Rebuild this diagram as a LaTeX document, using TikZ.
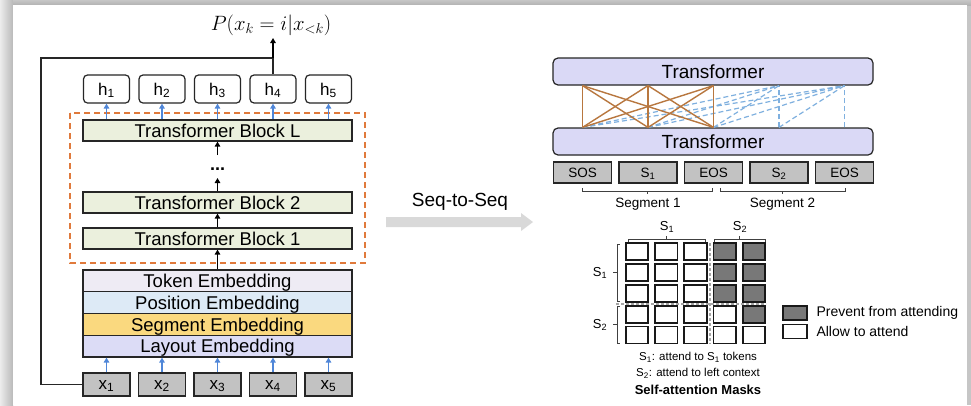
\documentclass[tikz,border=0pt]{standalone}
\usepackage{fontspec}
\setmainfont{Liberation Sans}
\usetikzlibrary{arrows.meta}

\definecolor{blockgreen}{HTML}{EBF0DD}
\definecolor{tokenemb}{HTML}{EEEBF4}
\definecolor{posemb}{HTML}{DDEAF6}
\definecolor{segemb}{HTML}{FAD97F}
\definecolor{layemb}{HTML}{DCDCF6}
\definecolor{lav}{HTML}{DAD9F6}
\definecolor{boxgray}{HTML}{C2C2C2}
\definecolor{dashorange}{HTML}{E07A3C}
\definecolor{attnorange}{HTML}{B8773F}
\definecolor{attnblue}{HTML}{7FB0DF}
\definecolor{arrowblue}{HTML}{4F86D8}
\definecolor{maskgray}{HTML}{787878}
\definecolor{sepgray}{HTML}{A5A5A5}
\definecolor{seqgray}{HTML}{D9D9D9}

\newcommand{\sbs}[1]{\textsubscript{#1}}

\tikzset{
  fs/.style={font=\fontsize{#1}{#1}\selectfont},
  outline/.style={draw=black!85,line width=1.2pt},
  block/.style={outline,fill=blockgreen,minimum width=269pt,minimum height=21pt,
    inner sep=0pt,fs=18.5,text height=13.3pt,text depth=0pt},
  emb/.style={outline,minimum width=269pt,minimum height=21.75pt,
    inner sep=0pt,fs=18.5,text height=13.3pt,text depth=0pt},
  hbox/.style={outline,rounded corners=4pt,fill=white,minimum width=46pt,
    minimum height=28pt,inner sep=0pt,fs=17,text height=12.2pt,text depth=0pt},
  xbox/.style={outline,fill=boxgray,minimum width=47pt,minimum height=23pt,
    inner sep=0pt,fs=17,text height=9pt,text depth=0pt},
  upblue/.style={draw=arrowblue,line width=1.3pt,-{Triangle[length=5pt,width=5.5pt]}},
  upblack/.style={draw=black,line width=1.3pt,-{Triangle[length=5pt,width=5.5pt]}},
  tf/.style={outline,rounded corners=5pt,fill=lav,minimum width=320pt,
    minimum height=27pt,inner sep=0pt,fs=19,text height=13.7pt,text depth=0pt},
  tok/.style={outline,fill=boxgray,minimum width=58pt,minimum height=21pt,
    inner sep=0pt,fs=13.5,text height=9.7pt,text depth=0pt},
  attn/.style={draw=attnorange,line width=1.4pt},
  attnd/.style={draw=attnblue,line width=1.2pt,dash pattern=on 5pt off 3pt},
  brk/.style={draw=black!75,line width=0.8pt},
  cell/.style={draw=black!90,line width=1.6pt,minimum width=22.5pt,
    minimum height=17pt,inner sep=0pt},
  sep/.style={draw=sepgray,line width=2pt,dash pattern=on 3pt off 2pt},
}

\begin{document}
\begin{tikzpicture}[x=1pt,y=-1pt]
\useasboundingbox (0,0) rectangle (971,405);

% page frame with soft shadow
\fill[gray!45] (0,0) rectangle (971,405);
\shade[left color=gray!15,right color=gray!55] (0,0) rectangle (13,405);
\shade[top color=gray!45,bottom color=gray!60] (13,0) rectangle (971,5);
\fill[white] (13,5) rectangle (967,405);

% ---------------- left: stacked encoder ----------------
\node[fs=22] (prob) at (271,25) {$P(x_k = i|x_{<k})$};

\foreach \i/\x in {1/106.5,2/162,3/217.5,4/273,5/328.5}{
  \node[hbox] (h\i) at (\x,89) {h\sbs{\i}};
  \node[xbox] (x\i) at (\x,384.5) {x\sbs{\i}};
}

\draw[dashorange,line width=1.3pt,dash pattern=on 6pt off 4pt]
  (70,113) rectangle (365,263);

\node[block] (bL) at (217.5,130.5) {Transformer Block L};
\node[font=\bfseries\fontsize{18}{18}\selectfont] (dots) at (217.5,169) {...};
\node[block] (b2) at (217.5,202.5) {Transformer Block 2};
\node[block] (b1) at (217.5,238.5) {Transformer Block 1};

\node[emb,fill=tokenemb] (etok) at (217.5,280.875) {Token Embedding};
\node[emb,fill=posemb] (epos) at (217.5,302.625) {Position Embedding};
\node[emb,fill=segemb] (eseg) at (217.5,324.375) {Segment Embedding};
\node[emb,fill=layemb] (elay) at (217.5,346.125) {Layout Embedding};

\foreach \i in {1,...,5}{
  \draw[upblue] (bL.north -| h\i) -- (h\i.south);
  \draw[upblue] (x\i.north) -- (elay.south -| x\i);
}

\draw[upblack] (etok.north) -- (b1.south);
\draw[upblack] (b1.north) -- (b2.south);
\coordinate (dotsbelow) at (217.5,178);
\coordinate (dotsabove) at (217.5,155);
\draw[upblack] (b2.north) -- (dotsbelow);
\draw[upblack] (dotsabove) -- (bL.south);

% output feedback path
\coordinate (cb) at (41,384.5);
\coordinate (ct) at (41,58);
\coordinate (join) at (273,58);
\draw[black!85,line width=1.4pt] (x1.west) -- (cb) -- (ct) -- (join);
\draw[black!85,line width=1.4pt] (h4.north) -- (join);
\draw[upblack] (join) -- (273,38);

% ---------------- middle arrow ----------------
\node[fs=19] (seqlbl) at (460,202) {Seq-to-Seq};
\fill[seqgray] (386,217) -- (521,217) -- (521,213) -- (533,222)
  -- (521,231) -- (521,227) -- (386,227) -- cycle;

% ---------------- right: seq-to-seq attention ----------------
\node[tf] (ttop) at (713,71.5) {Transformer};
\node[tf] (tbot) at (713,141.5) {Transformer};

\foreach \i/\t/\x in {1/SOS/582.5,2/S\sbs{1}/648,3/EOS/713.5,4/S\sbs{2}/779,5/EOS/844.5}{
  \node[tok] (k\i) at (\x,172.5) {\t};
  \coordinate (lo\i) at (k\i |- tbot.north);
  \coordinate (hi\i) at (k\i |- ttop.south);
}

\foreach \j in {4,5}{
  \foreach \i in {1,...,\j}{
    \draw[attnd] (lo\i) -- (hi\j);
  }
}
\foreach \i in {1,2,3}{
  \foreach \j in {1,2,3}{
    \draw[attn] (lo\i) -- (hi\j);
  }
}

% segment brackets
\draw[brk] (582,188) -- (582,191) -- (712,191) -- (712,188);
\draw[brk] (647,191) -- (647,194);
\draw[brk] (720,188) -- (720,191) -- (845,191) -- (845,188);
\draw[brk] (782.5,191) -- (782.5,194);
\node[fs=13.5] (seg1) at (648,204) {Segment 1};
\node[fs=13.5] (seg2) at (782.5,204) {Segment 2};

% self-attention mask grid
\foreach \r in {1,...,5}{
  \foreach \c in {1,...,5}{
    \pgfmathtruncatemacro{\dk}{and(\c>3,\c>\r)}
    \ifnum\dk=1 \def\fc{maskgray}\else\def\fc{white}\fi
    \node[cell,fill=\fc] (m\r\c) at ({637+29.25*(\c-1)},{251.5+20.9*(\r-1)}) {};
  }
}
\draw[sep] (710,243) -- (710,344);
\draw[sep] (616,304) -- (766,304);

\draw[brk] (628,242) -- (628,239) -- (705,239) -- (705,242);
\draw[brk] (666.5,239) -- (666.5,236);
\draw[brk] (714,242) -- (714,239) -- (765,239) -- (765,242);
\draw[brk] (739.5,239) -- (739.5,236);
\draw[brk] (620,244) -- (617,244) -- (617,301) -- (620,301);
\draw[brk] (617,272.5) -- (613,272.5);
\draw[brk] (620,306) -- (617,306) -- (617,343) -- (620,343);
\draw[brk] (617,324.5) -- (613,324.5);

\node[fs=13] (cs1) at (667,227) {S\sbs{1}};
\node[fs=13] (cs2) at (740,227) {S\sbs{2}};
\node[fs=13] (rs1) at (600,273) {S\sbs{1}};
\node[fs=13] (rs2) at (600,325) {S\sbs{2}};

% legend
\node[cell,fill=maskgray,minimum width=24pt,minimum height=14pt] (lgp) at (795,313) {};
\node[cell,fill=white,minimum width=24pt,minimum height=14pt] (lga) at (795,331.5) {};
\node[fs=14,anchor=west] (lgpt) at (813,313) {Prevent from attending};
\node[fs=14,anchor=west] (lgat) at (813,331.5) {Allow to attend};

% captions
\node[fs=11.5] (cap1) at (698,357) {S\sbs{1}: attend to S\sbs{1} tokens};
\node[fs=11.5] (cap2) at (698,373) {S\sbs{2}: attend to left context};
\node[font=\bfseries\fontsize{13}{13}\selectfont] (cap3) at (698,390) {Self-attention Masks};

\end{tikzpicture}
\end{document}
